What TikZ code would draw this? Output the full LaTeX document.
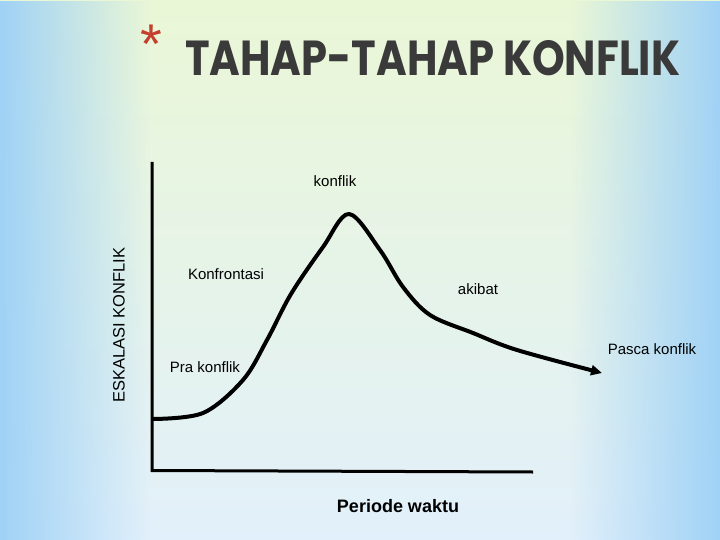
\documentclass[tikz,border=0pt]{standalone}
\usepackage{fontspec}
\setmainfont{Liberation Sans}
\newfontfamily\titlefont{Poppins}
\usepackage{tikz}
\usetikzlibrary{arrows.meta,fadings}
\usepackage{xcolor}
\definecolor{bgblue}{RGB}{160,210,246}
\definecolor{bggreen}{RGB}{234,247,214}
\definecolor{bgpale}{RGB}{226,240,251}
\definecolor{titlegray}{RGB}{58,58,58}
\definecolor{starred}{RGB}{196,64,44}
\newcommand{\lblsize}{\fontsize{15}{18}\selectfont}

\begin{document}
\begin{tikzpicture}[x=1pt,y=-1pt,
    lbl/.style={font=\lblsize,inner sep=0pt},
    axisline/.style={line width=3pt},
    curveline/.style={line width=4pt,line join=round,-{Triangle[length=11pt,width=10pt]}}]
    \useasboundingbox (0,0) rectangle (720,540);
    % background
    \shade[top color=bggreen,middle color=white,bottom color=bgpale] (0,0) rectangle (720,540);
    \fill[bgblue,path fading=east] (0,0) rectangle (150,540);
    \fill[bgblue,path fading=west] (570,0) rectangle (720,540);
    % title
    \node[text=starred,font=\fontsize{56}{56}\selectfont,inner sep=0pt] (star) at (151,44) {*};
    \node[anchor=north west,inner sep=0pt,text=titlegray] (title) at (185,40)
      {\resizebox{495pt}{35pt}{\titlefont\bfseries TAHAP-TAHAP KONFLIK}};
    % axes
    \coordinate (top) at (152,162);
    \coordinate (orig) at (152,472);
    \coordinate (xend) at (533,472);
    \draw[axisline] (top) -- ([yshift=1.5pt]orig) -- (xend);
    % curve
    \draw[curveline] plot[smooth,tension=.55] coordinates {(152,419) (203,413) (243,380) (267,340)
      (291,294) (323,247) (349,214) (380,250) (403,287) (430,315) (473,333) (517,350) (602,373)};
    % labels
    \foreach \p/\t/\n in {{335,181}/konflik/lk,{226,274}/Konfrontasi/lkf,{478,289}/akibat/la,
                          {652,349}/Pasca konflik/lp,{205,367}/Pra konflik/lpr} {
      \node[lbl] (\n) at (\p) {\t};
    }
    \node[lbl,font=\fontsize{18}{20}\selectfont\bfseries] (periode) at (398,506) {Periode waktu};
    \node[lbl,rotate=90,font=\fontsize{16.5}{18}\selectfont] (eskalasi) at (119,325) {ESKALASI KONFLIK};
  \end{tikzpicture}
\end{document}
